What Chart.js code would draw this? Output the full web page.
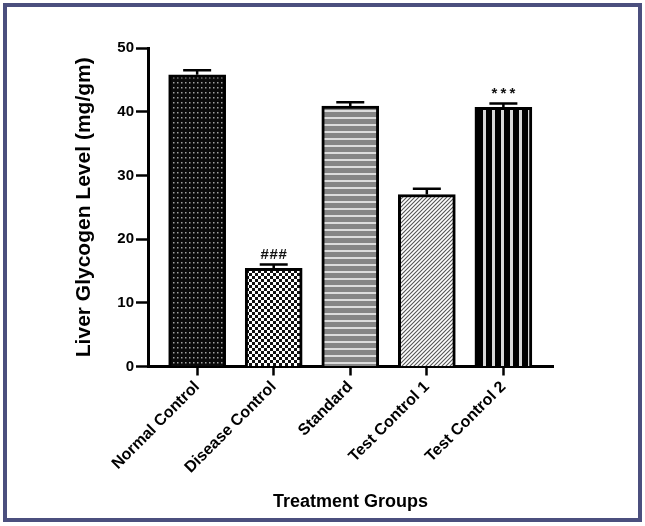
<!DOCTYPE html>
<html>
<head>
<meta charset="utf-8">
<script src="https://cdn.jsdelivr.net/npm/chart.js@4.4.1/dist/chart.umd.min.js"></script>
<style>
  html, body { margin: 0; padding: 0; background: #fff; }
  #wrap { position: relative; width: 645px; height: 526px; overflow: hidden; }
  #c { position: absolute; left: 0; top: 0; }
  #frame { position: absolute; left: 3px; top: 3px; width: 631px; height: 511px;
           border: 4px solid #4b4f7e; pointer-events: none; }
</style>
</head>
<body>
<div id="wrap">
  <canvas id="c" width="645" height="526"></canvas>
  <div id="frame"></div>
</div>
<script>
// ---- data ----
const categories = ['Normal Control', 'Disease Control', 'Standard', 'Test Control 1', 'Test Control 2'];
const glycogen = [45.8, 15.4, 40.9, 27.0, 40.7];
const sem = [0.7, 0.6, 0.6, 0.9, 0.6];
const significance = ['', '###', '', '', '***'];
const yTicks = [0, 10, 20, 30, 40, 50];
const yTitle = 'Liver Glycogen Level (mg/gm)';
const xTitle = 'Treatment Groups';

const FONT = "'Liberation Sans', Arial, sans-serif";

function makePattern(w, h, draw) {
  const c = document.createElement('canvas');
  c.width = w; c.height = h;
  const g = c.getContext('2d');
  draw(g, w, h);
  return document.getElementById('c').getContext('2d').createPattern(c, 'repeat');
}

const patterns = [
  // dotted black
  makePattern(4, 5, (g, w, h) => {
    g.fillStyle = '#0a0a0a'; g.fillRect(0, 0, w, h);
    g.fillStyle = '#a0a0a0'; g.fillRect(1, 2, 1.5, 1.5);
  }),
  // checkerboard
  makePattern(6, 6, (g, w, h) => {
    g.fillStyle = '#ffffff'; g.fillRect(0, 0, w, h);
    g.fillStyle = '#111111'; g.fillRect(0, 0, 3, 3); g.fillRect(3, 3, 3, 3);
  }),
  // grey with horizontal light lines
  makePattern(8, 7, (g, w, h) => {
    g.fillStyle = '#858585'; g.fillRect(0, 0, w, h);
    g.fillStyle = '#dcdcdc'; g.fillRect(0, 5, w, 2);
  }),
  // diagonal hatch
  makePattern(4, 4, (g, w, h) => {
    g.fillStyle = '#ffffff'; g.fillRect(0, 0, w, h);
    g.strokeStyle = '#555555'; g.lineWidth = 1.1;
    g.beginPath();
    g.moveTo(-1, 5); g.lineTo(5, -1);
    g.moveTo(-1, 1); g.lineTo(1, -1);
    g.moveTo(3, 5); g.lineTo(5, 3);
    g.stroke();
  }),
  // vertical black/white stripes
  makePattern(9, 8, (g, w, h) => {
    g.fillStyle = '#000000'; g.fillRect(0, 0, w, h);
    g.fillStyle = '#d8d8d8'; g.fillRect(6, 0, 3, h);
  })
];

const errorBarPlugin = {
  id: 'errorBars',
  afterDatasetsDraw(chart) {
    const ctx = chart.ctx;
    const xs = chart.scales.x, ys = chart.scales.y;
    ctx.save();
    ctx.strokeStyle = '#000';
    ctx.lineWidth = 2.5;
    ctx.lineCap = 'butt';
    glycogen.forEach((v, i) => {
      const x = xs.getPixelForValue(i);
      const yb = ys.getPixelForValue(v);
      const yt = ys.getPixelForValue(v + sem[i]);
      ctx.beginPath();
      ctx.moveTo(x, yb); ctx.lineTo(x, yt);
      ctx.moveTo(x - 14, yt); ctx.lineTo(x + 14, yt);
      ctx.stroke();
      if (significance[i]) {
        ctx.fillStyle = '#111';
        ctx.font = 'bold 15px ' + FONT;
        ctx.textAlign = 'center';
        ctx.textBaseline = 'middle';
        const chars = significance[i].split('');
        const sp = 9;
        chars.forEach((ch, k) => {
          ctx.fillText(ch, x + (k - (chars.length - 1) / 2) * sp, yt - 10);
        });
      }
    });
    ctx.restore();
  }
};

const PAD_L = 72, PAD_R = 92, PAD_T = 48, PAD_B = 13;
const AREA_LEFT = 148, AREA_BOTTOM = 366.5;

new Chart(document.getElementById('c'), {
  type: 'bar',
  data: {
    datasets: [{
      data: glycogen.map((v, i) => ({ x: i, y: v })),
      backgroundColor: patterns,
      borderColor: '#000',
      borderWidth: 3,
      borderSkipped: 'bottom',
      barThickness: 57
    }]
  },
  options: {
    responsive: false,
    animation: false,
    layout: { padding: { left: PAD_L, right: PAD_R, top: PAD_T, bottom: PAD_B } },
    plugins: { legend: { display: false }, tooltip: { enabled: false } },
    scales: {
      x: {
        type: 'linear',
        min: -0.642, max: 4.648,
        offset: false,
        afterBuildTicks(scale) { scale.ticks = categories.map((_, i) => ({ value: i })); },
        afterFit(scale) { scale.height = 526 - PAD_B - AREA_BOTTOM; },
        ticks: {
          callback: (v) => categories[v],
          minRotation: 45, maxRotation: 45,
          autoSkip: false,
          color: '#000',
          padding: 2,
          font: { family: FONT, size: 16, weight: 'bold' }
        },
        grid: { display: true, drawOnChartArea: false, drawTicks: true, offset: false,
                tickLength: 9, tickWidth: 2.5, tickColor: '#000' },
        border: { display: true, color: '#000', width: 3 },
        title: { display: true, text: xTitle, color: '#000',
                 font: { family: FONT, size: 18, weight: 'bold' }, padding: { top: 0, bottom: 0 } }
      },
      y: {
        min: 0, max: 50,
        afterBuildTicks(scale) { scale.ticks = yTicks.map(v => ({ value: v })); },
        afterFit(scale) { scale.width = AREA_LEFT - PAD_L; },
        ticks: { color: '#000', padding: 2,
                 font: { family: FONT, size: 15, weight: 'bold' } },
        grid: { display: true, drawOnChartArea: false, drawTicks: true,
                tickLength: 12, tickWidth: 2.5, tickColor: '#000' },
        border: { display: true, color: '#000', width: 3 },
        title: { display: true, text: yTitle, color: '#000',
                 font: { family: FONT, size: 21, weight: 'bold' }, padding: { top: 0, bottom: 0 } }
      }
    }
  },
  plugins: [errorBarPlugin]
});
</script>
</body>
</html>
